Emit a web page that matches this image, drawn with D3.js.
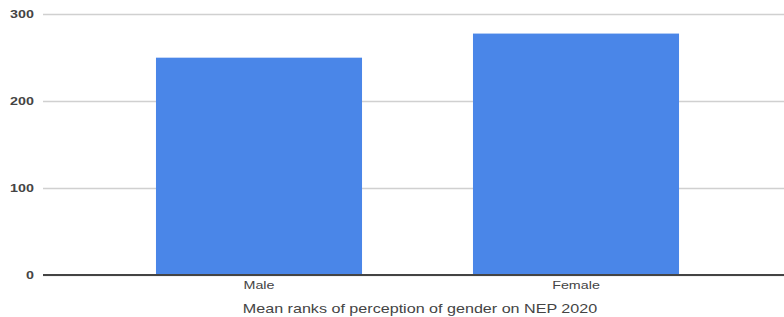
<!DOCTYPE html>
<html>
<head>
<meta charset="utf-8">
<script src="https://cdn.jsdelivr.net/npm/d3@7"></script>
<style>
  body { margin: 0; background: #fff; }
  svg text { font-family: "Liberation Sans", Arial, sans-serif; fill: #444; }
</style>
</head>
<body>
<div id="chart"></div>
<script>
const categories = ["Male", "Female"];
const meanRanks = [249.8, 277.5];
const yTicks = [0, 100, 200, 300];
const xTitle = "Mean ranks of perception of gender on NEP 2020";

const W = 784, H = 317;
const plot = {left: 43, right: 784, top: 14, bottom: 275};
const stretch = 1.3;

const svg = d3.select("#chart").append("svg")
    .attr("width", W)
    .attr("height", H);

const y = d3.scaleLinear()
    .domain([0, 300])
    .range([plot.bottom, plot.top]);

const x = d3.scaleBand()
    .domain(categories)
    .range([100.5, 734.5])
    .paddingInner(0.35)
    .paddingOuter(0.175);

// gridlines + y labels
const yAxis = svg.append("g")
    .attr("transform", "translate(" + plot.left + ",0)")
    .call(d3.axisLeft(y).tickValues(yTicks).tickSize(-(plot.right - plot.left)).tickPadding(7));
yAxis.select(".domain").remove();
yAxis.selectAll("line")
    .attr("stroke", "#d0d0d0")
    .attr("stroke-width", 1.6);
yAxis.selectAll("text")
    .attr("font-size", 11)
    .attr("font-weight", "bold")
    .style("fill", "#444")
    .attr("transform", "scale(" + stretch + ",1)");

// bars
svg.append("g")
    .selectAll("rect")
    .data(categories)
    .enter().append("rect")
    .attr("x", d => x(d))
    .attr("y", (d, i) => y(meanRanks[i]))
    .attr("width", x.bandwidth())
    .attr("height", (d, i) => y(0) - y(meanRanks[i]))
    .attr("fill", "#4a86e8");

// baseline
svg.append("line")
    .attr("x1", plot.left).attr("x2", plot.right)
    .attr("y1", y(0)).attr("y2", y(0))
    .attr("stroke", "#444")
    .attr("stroke-width", 2);

// x labels
svg.append("g")
    .selectAll("text")
    .data(categories)
    .enter().append("text")
    .attr("transform", d => "translate(" + (x(d) + x.bandwidth() / 2) + ",289) scale(" + stretch + ",1)")
    .attr("text-anchor", "middle")
    .attr("font-size", 11)
    .text(d => d);

svg.append("text")
    .attr("transform", "translate(420,313) scale(" + stretch + ",1)")
    .attr("text-anchor", "middle")
    .attr("font-size", 12.4)
    .text(xTitle);
</script>
</body>
</html>
